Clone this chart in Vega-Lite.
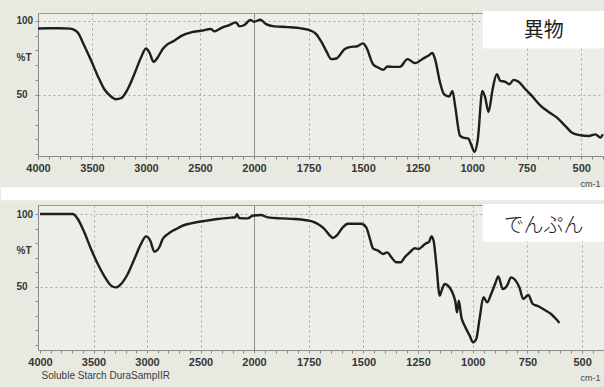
{
  "$schema": "https://vega.github.io/schema/vega-lite/v6.json",
  "autosize": {"type": "pad"},
  "padding": {"left": 0, "top": 10, "right": 0, "bottom": 12},
  "background": "#e8eae2",
  "config": {
    "view": {"stroke": "#9a9a9a", "fill": "#eceee7"},
    "axis": {"labelFont": "Liberation Sans", "titleFont": "Liberation Sans"}
  },
  "spacing": 49,
  "bounds": "flush",
  "datasets": {
    "one": [{}],
    "top": [
      {"wn": 4000, "t": 94.8}, {"wn": 3900, "t": 94.9}, {"wn": 3800, "t": 94.9}, {"wn": 3700, "t": 94.7},
      {"wn": 3679, "t": 94.3}, {"wn": 3632, "t": 92.1}, {"wn": 3571, "t": 83.1}, {"wn": 3500, "t": 71.8},
      {"wn": 3447, "t": 62.8}, {"wn": 3386, "t": 53.8}, {"wn": 3324, "t": 48.9}, {"wn": 3280, "t": 47.1},
      {"wn": 3230, "t": 47.8}, {"wn": 3170, "t": 53.8}, {"wn": 3108, "t": 64}, {"wn": 3046, "t": 75.2},
      {"wn": 3000, "t": 81.3}, {"wn": 2969, "t": 78.6}, {"wn": 2929, "t": 72.3}, {"wn": 2892, "t": 75.2},
      {"wn": 2845, "t": 80.9}, {"wn": 2799, "t": 84.2}, {"wn": 2738, "t": 86.5}, {"wn": 2676, "t": 89.6},
      {"wn": 2583, "t": 92.1}, {"wn": 2491, "t": 93.2}, {"wn": 2398, "t": 94.4}, {"wn": 2367, "t": 92.8},
      {"wn": 2305, "t": 95}, {"wn": 2228, "t": 97.1}, {"wn": 2166, "t": 98.9}, {"wn": 2135, "t": 96.2},
      {"wn": 2089, "t": 97.1}, {"wn": 2034, "t": 100.5}, {"wn": 2000, "t": 99.3}, {"wn": 1971, "t": 100.7},
      {"wn": 1945, "t": 97.7}, {"wn": 1907, "t": 96.2}, {"wn": 1845, "t": 95.7}, {"wn": 1784, "t": 94.8},
      {"wn": 1738, "t": 93.2}, {"wn": 1715, "t": 91}, {"wn": 1692, "t": 86}, {"wn": 1669, "t": 79.7},
      {"wn": 1646, "t": 74.1}, {"wn": 1623, "t": 74.5}, {"wn": 1584, "t": 80.9}, {"wn": 1554, "t": 82.4},
      {"wn": 1531, "t": 82.6}, {"wn": 1500, "t": 84.7}, {"wn": 1485, "t": 82}, {"wn": 1454, "t": 70.7},
      {"wn": 1431, "t": 68.5}, {"wn": 1408, "t": 66.9}, {"wn": 1388, "t": 69.1}, {"wn": 1362, "t": 68.9},
      {"wn": 1331, "t": 68.9}, {"wn": 1296, "t": 74.1}, {"wn": 1262, "t": 71.4}, {"wn": 1224, "t": 74.5},
      {"wn": 1201, "t": 76.4}, {"wn": 1182, "t": 78.2}, {"wn": 1170, "t": 74.1}, {"wn": 1147, "t": 58.3},
      {"wn": 1129, "t": 50.5}, {"wn": 1106, "t": 48.9}, {"wn": 1090, "t": 52.7}, {"wn": 1078, "t": 42.6},
      {"wn": 1055, "t": 22.3}, {"wn": 1040, "t": 21.2}, {"wn": 1017, "t": 20.5}, {"wn": 1005, "t": 16.7},
      {"wn": 989, "t": 11.5}, {"wn": 974, "t": 20}, {"wn": 953, "t": 52.7}, {"wn": 940, "t": 48.2},
      {"wn": 925, "t": 38.5}, {"wn": 906, "t": 53.8}, {"wn": 887, "t": 64}, {"wn": 871, "t": 59.5},
      {"wn": 848, "t": 58.8}, {"wn": 830, "t": 57.2}, {"wn": 810, "t": 60.1}, {"wn": 787, "t": 58.8},
      {"wn": 756, "t": 53.8}, {"wn": 726, "t": 49.3}, {"wn": 688, "t": 43}, {"wn": 649, "t": 38.5},
      {"wn": 611, "t": 34.7}, {"wn": 573, "t": 29.1}, {"wn": 542, "t": 24.5}, {"wn": 504, "t": 22.8},
      {"wn": 465, "t": 22.3}, {"wn": 435, "t": 23.4}, {"wn": 412, "t": 21.2}, {"wn": 401, "t": 23.4}
    ],
    "bottom": [
      {"wn": 4000, "t": 100}, {"wn": 3900, "t": 100}, {"wn": 3800, "t": 100}, {"wn": 3694, "t": 100},
      {"wn": 3647, "t": 96.6}, {"wn": 3586, "t": 87.4}, {"wn": 3523, "t": 75.9}, {"wn": 3460, "t": 65.6},
      {"wn": 3398, "t": 57.1}, {"wn": 3336, "t": 50.7}, {"wn": 3289, "t": 49.5}, {"wn": 3243, "t": 51.8},
      {"wn": 3180, "t": 58.7}, {"wn": 3118, "t": 69}, {"wn": 3056, "t": 79.4}, {"wn": 3009, "t": 84.6},
      {"wn": 2969, "t": 81.6}, {"wn": 2931, "t": 74.1}, {"wn": 2885, "t": 77.1}, {"wn": 2853, "t": 82.8},
      {"wn": 2806, "t": 86.2}, {"wn": 2760, "t": 88.5}, {"wn": 2713, "t": 90.2}, {"wn": 2682, "t": 91.5},
      {"wn": 2588, "t": 93.6}, {"wn": 2464, "t": 95.2}, {"wn": 2339, "t": 96.6}, {"wn": 2215, "t": 97.5},
      {"wn": 2175, "t": 97.8}, {"wn": 2159, "t": 99.8}, {"wn": 2137, "t": 97.2}, {"wn": 2059, "t": 97},
      {"wn": 2012, "t": 98.8}, {"wn": 1968, "t": 99.3}, {"wn": 1937, "t": 97.7}, {"wn": 1876, "t": 97},
      {"wn": 1815, "t": 96.6}, {"wn": 1769, "t": 95.9}, {"wn": 1723, "t": 94.3}, {"wn": 1708, "t": 93.1},
      {"wn": 1678, "t": 89.7}, {"wn": 1655, "t": 85.5}, {"wn": 1640, "t": 83.5}, {"wn": 1620, "t": 85.5},
      {"wn": 1594, "t": 90.8}, {"wn": 1571, "t": 93.3}, {"wn": 1510, "t": 93.3}, {"wn": 1487, "t": 90.8},
      {"wn": 1472, "t": 84}, {"wn": 1456, "t": 76.4}, {"wn": 1433, "t": 74.8}, {"wn": 1410, "t": 72.5},
      {"wn": 1391, "t": 73.6}, {"wn": 1372, "t": 70.2}, {"wn": 1349, "t": 66.8}, {"wn": 1329, "t": 66.8},
      {"wn": 1311, "t": 70.2}, {"wn": 1288, "t": 73.6}, {"wn": 1265, "t": 76.4}, {"wn": 1247, "t": 75.9},
      {"wn": 1227, "t": 78.2}, {"wn": 1212, "t": 80}, {"wn": 1201, "t": 80.5}, {"wn": 1189, "t": 84.6},
      {"wn": 1179, "t": 81.6}, {"wn": 1166, "t": 64.4}, {"wn": 1151, "t": 43.8}, {"wn": 1140, "t": 48.4},
      {"wn": 1128, "t": 51.8}, {"wn": 1110, "t": 50.2}, {"wn": 1097, "t": 47.2}, {"wn": 1090, "t": 44.9},
      {"wn": 1079, "t": 39.2}, {"wn": 1072, "t": 32.3}, {"wn": 1064, "t": 40.3}, {"wn": 1052, "t": 28.9},
      {"wn": 1037, "t": 23.1}, {"wn": 1014, "t": 16.3}, {"wn": 999, "t": 11.7}, {"wn": 984, "t": 14},
      {"wn": 969, "t": 27.7}, {"wn": 951, "t": 42.7}, {"wn": 934, "t": 39.2}, {"wn": 916, "t": 44.9},
      {"wn": 898, "t": 51.8}, {"wn": 883, "t": 57.1}, {"wn": 863, "t": 48.4}, {"wn": 843, "t": 50.7},
      {"wn": 825, "t": 56.4}, {"wn": 807, "t": 54.8}, {"wn": 787, "t": 49.6}, {"wn": 769, "t": 41.5},
      {"wn": 746, "t": 44.3}, {"wn": 726, "t": 38.1}, {"wn": 700, "t": 36.5}, {"wn": 673, "t": 34.1},
      {"wn": 642, "t": 31.2}, {"wn": 619, "t": 27.7}, {"wn": 604, "t": 25}
    ]
  },
  "vconcat": [
    {
      "width": 568,
      "height": 143,
      "layer": [
        {
          "data": {"name": "top"},
          "mark": {"type": "line", "color": "#1e1e1e", "strokeWidth": 2.4, "interpolate": "monotone"},
          "encoding": {
            "x": {
              "field": "wn", "type": "quantitative",
              "scale": {"domain": [4000, 2000, 400], "range": [0, 216, 565], "zero": false, "nice": false},
              "axis": {
                "values": [4000,3900,3800,3700,3600,3500,3400,3300,3200,3100,3000,2900,2800,2700,2600,2500,2400,2300,2200,2100,2000,1950,1900,1850,1800,1750,1700,1650,1600,1550,1500,1450,1400,1350,1300,1250,1200,1150,1100,1050,1000,950,900,850,800,750,700,650,600,550,500,450,400],
                "tickCount": 500,
                "format": "d",
                "labelExpr": "indexof([4000,3500,3000,2500,2000,1750,1500,1250,1000,750,500], datum.value) >= 0 ? datum.label : ''",
                "labelOverlap": false, "labelFlush": false,
                "labelFontSize": 11, "labelFontWeight": "bold", "labelColor": "#363636", "labelPadding": 3,
                "tickSize": 3, "tickColor": "#8a8a8a", "domainColor": "#8a8a8a",
                "grid": true,
                "gridOpacity": {"condition": {"test": "indexof([3500,3000,2500,2000,1750,1500,1250,1000,750,500], datum.value) >= 0", "value": 1}, "value": 0},
                "gridDash": {"condition": {"test": "datum.value == 2000", "value": []}, "value": [2, 3]},
                "gridColor": {"condition": {"test": "datum.value == 2000", "value": "#8e8e8e"}, "value": "#a6a8a0"},
                "title": "cm-1", "titleX": 562, "titleY": 27, "titleAlign": "right", "titleBaseline": "middle",
                "titleFontSize": 9, "titleFontWeight": "normal", "titleColor": "#444"
              }
            },
            "y": {
              "field": "t", "type": "quantitative",
              "scale": {"domain": [8.8, 105.2], "zero": false, "nice": false},
              "axis": {
                "values": [10,20,30,40,50,60,70,75,80,90,100],
                "tickCount": 500,
                "labelExpr": "datum.value == 100 ? '100' : datum.value == 50 ? '50' : datum.value == 75 ? '%T' : ''",
                "labelOverlap": false, "labelFlush": false,
                "labelAlign": "left", "labelBaseline": "middle", "labelPadding": 19,
                "labelFontSize": 10, "labelFontWeight": "bold", "labelColor": "#363636",
                "tickSize": 3, "tickColor": "#8a8a8a", "domainColor": "#8a8a8a",
                "tickOpacity": {"condition": {"test": "datum.value == 75", "value": 0}, "value": 1},
                "grid": true,
                "gridOpacity": {"condition": {"test": "datum.value == 50 || datum.value == 100", "value": 1}, "value": 0},
                "gridDash": [2, 3], "gridColor": "#a6a8a0",
                "title": null
              }
            }
          }
        },
        {
          "data": {"name": "one"},
          "mark": {"type": "rect", "color": "#ffffff"},
          "encoding": {
            "x": {"datum": 951}, "x2": {"datum": 370},
            "y": {"datum": 106.5}, "y2": {"datum": 81.3}
          }
        },
        {
          "data": {"name": "one"},
          "mark": {"type": "text", "text": "異物", "font": "Noto Sans CJK JP", "fontSize": 20, "color": "#222222", "align": "center", "baseline": "middle"},
          "encoding": {"x": {"datum": 672}, "y": {"datum": 93.2}}
        }
      ]
    },
    {
      "width": 568,
      "height": 145,
      "layer": [
        {
          "data": {"name": "one"},
          "mark": {"type": "rect", "color": "#ffffff"},
          "encoding": {
            "x": {"datum": 4364.5}, "x2": {"datum": 370},
            "y": {"datum": 118.5}, "y2": {"datum": 109.5}
          }
        },
        {
          "data": {"name": "bottom"},
          "mark": {"type": "line", "color": "#1e1e1e", "strokeWidth": 2.4, "interpolate": "monotone"},
          "encoding": {
            "x": {
              "field": "wn", "type": "quantitative",
              "scale": {"domain": [4000, 2000, 400], "range": [2, 216, 566], "zero": false, "nice": false},
              "axis": {
                "values": [4000,3900,3800,3700,3600,3500,3400,3300,3200,3100,3000,2900,2800,2700,2600,2500,2400,2300,2200,2100,2000,1950,1900,1850,1800,1750,1700,1650,1600,1550,1500,1450,1400,1350,1300,1250,1200,1150,1100,1050,1000,950,900,850,800,750,700,650,600,550,500,450,400],
                "tickCount": 500,
                "format": "d",
                "labelExpr": "indexof([4000,3500,3000,2500,2000,1750,1500,1250,1000,750,500], datum.value) >= 0 ? datum.label : ''",
                "labelOverlap": false, "labelFlush": false,
                "labelFontSize": 11, "labelFontWeight": "bold", "labelColor": "#363636", "labelPadding": 3,
                "tickSize": 3, "tickColor": "#8a8a8a", "domainColor": "#8a8a8a",
                "grid": true,
                "gridOpacity": {"condition": {"test": "indexof([3500,3000,2500,2000,1750,1500,1250,1000,750,500], datum.value) >= 0", "value": 1}, "value": 0},
                "gridDash": {"condition": {"test": "datum.value == 2000", "value": []}, "value": [2, 3]},
                "gridColor": {"condition": {"test": "datum.value == 2000", "value": "#8e8e8e"}, "value": "#a6a8a0"},
                "title": "cm-1", "titleX": 562, "titleY": 27, "titleAlign": "right", "titleBaseline": "middle",
                "titleFontSize": 9, "titleFontWeight": "normal", "titleColor": "#444"
              }
            },
            "y": {
              "field": "t", "type": "quantitative",
              "scale": {"domain": [6.4, 106.2], "zero": false, "nice": false},
              "axis": {
                "values": [10,20,30,40,50,60,70,75,80,90,100],
                "tickCount": 500,
                "labelExpr": "datum.value == 100 ? '100' : datum.value == 50 ? '50' : datum.value == 75 ? '%T' : ''",
                "labelOverlap": false, "labelFlush": false,
                "labelAlign": "left", "labelBaseline": "middle", "labelPadding": 19,
                "labelFontSize": 10, "labelFontWeight": "bold", "labelColor": "#363636",
                "tickSize": 3, "tickColor": "#8a8a8a", "domainColor": "#8a8a8a",
                "tickOpacity": {"condition": {"test": "datum.value == 75", "value": 0}, "value": 1},
                "grid": true,
                "gridOpacity": {"condition": {"test": "datum.value == 50 || datum.value == 100", "value": 1}, "value": 0},
                "gridDash": [2, 3], "gridColor": "#a6a8a0",
                "title": null
              }
            }
          }
        },
        {
          "data": {"name": "one"},
          "mark": {"type": "rect", "color": "#ffffff"},
          "encoding": {
            "x": {"datum": 955}, "x2": {"datum": 370},
            "y": {"datum": 106.9}, "y2": {"datum": 80.9}
          }
        },
        {
          "data": {"name": "one"},
          "mark": {"type": "text", "text": "でんぷん", "font": "Noto Sans CJK JP", "fontSize": 20, "fontWeight": 300, "color": "#222222", "align": "center", "baseline": "middle"},
          "encoding": {"x": {"datum": 676}, "y": {"datum": 91.9}}
        },
        {
          "data": {"name": "one"},
          "mark": {"type": "text", "text": "Soluble Starch  DuraSampIIR", "font": "Liberation Sans", "fontSize": 10, "color": "#3a3a3a", "align": "left", "baseline": "middle"},
          "encoding": {"x": {"datum": 3985}, "y": {"datum": -11.5}}
        }
      ]
    }
  ]
}
